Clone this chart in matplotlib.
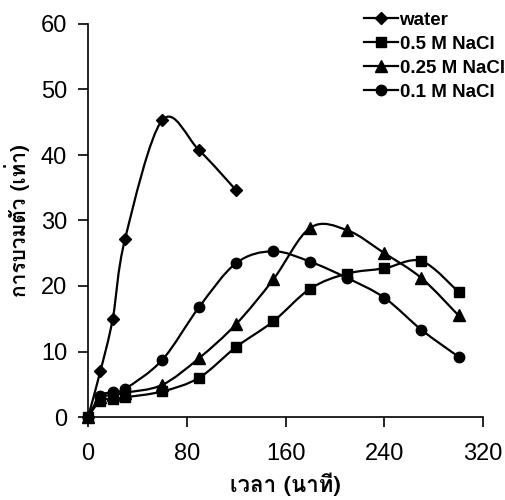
import numpy as np
import matplotlib
matplotlib.use("Agg")
import matplotlib.pyplot as plt
from matplotlib import font_manager
from matplotlib.path import Path
from matplotlib.patches import PathPatch
from matplotlib.lines import Line2D
from matplotlib.ft2font import FT2Font

# data
time_water = [0, 10, 20, 30, 60, 90, 120]
water = [0, 7, 15, 27.2, 45.3, 40.7, 34.6]

time_nacl = [0, 10, 20, 30, 60, 90, 120, 150, 180, 210, 240, 270, 300]
nacl_05 = [0, 2.5, 2.7, 3.0, 3.9, 6.0, 10.7, 14.6, 19.6, 21.9, 22.7, 23.8, 19.1]
nacl_025 = [0, 3.0, 3.3, 3.7, 4.9, 9.0, 14.2, 21.0, 28.9, 28.5, 25.0, 21.2, 15.5]
nacl_01 = [0, 3.2, 3.8, 4.3, 8.7, 16.8, 23.5, 25.3, 23.7, 21.2, 18.2, 13.3, 9.2]

labels = ["water", "0.5 M NaCl", "0.25 M NaCl", "0.1 M NaCl"]
x_ticks = [0, 80, 160, 240, 320]
y_ticks = [0, 10, 20, 30, 40, 50, 60]


def find_thai_font():
    # pick any installed font that has Thai glyphs
    for f in font_manager.fontManager.ttflist:
        try:
            if 0x0E01 in FT2Font(f.fname).get_charmap():
                return f.name
        except Exception:
            pass
    return "DejaVu Sans"


thai = find_thai_font()
plt.rcParams['font.family'] = ['Liberation Sans', 'DejaVu Sans']


def smooth_path(x, y):
    # catmull-rom style bezier through the points (like excel smoothed lines)
    pts = np.column_stack([x, y]).astype(float)
    n = len(pts)
    verts = [pts[0]]
    codes = [Path.MOVETO]
    for i in range(n - 1):
        p0 = pts[i - 1] if i > 0 else pts[i]
        p1 = pts[i]
        p2 = pts[i + 1]
        p3 = pts[i + 2] if i + 2 < n else pts[i + 1]
        c1 = p1 + (p2 - p0) / 6
        c2 = p2 - (p3 - p1) / 6
        verts += [c1, c2, p2]
        codes += [Path.CURVE4] * 3
    return Path(verts, codes)


fig = plt.figure(figsize=(5.06, 5.0), dpi=100)
ax = fig.add_axes([0.174, 0.166, 0.781, 0.786])

series = [
    (time_water, water, "D", 6),
    (time_nacl, nacl_05, "s", 7),
    (time_nacl, nacl_025, "^", 8),
    (time_nacl, nacl_01, "o", 7.5),
]
handles = []
for (xs, ys, mk, ms), lab in zip(series, labels):
    ax.add_patch(PathPatch(smooth_path(xs, ys), facecolor="none",
                           edgecolor="black", lw=1.6, zorder=2))
    ax.plot(xs, ys, linestyle="none", marker=mk, markersize=ms,
            color="black", zorder=3, clip_on=False)
    handles.append(Line2D([], [], color="black", lw=1.6, marker=mk,
                          markersize=ms, label=lab))

ax.set_xlim(0, 320)
ax.set_ylim(0, 60)
ax.set_xticks(x_ticks)
ax.set_yticks(y_ticks)
for s in ["top", "right"]:
    ax.spines[s].set_visible(False)
for s in ["left", "bottom"]:
    ax.spines[s].set_linewidth(1.2)
ax.tick_params(direction="out", length=7, width=1.2, labelsize=17)
ax.tick_params(axis="x", pad=12)
ax.tick_params(axis="y", pad=8)

ax.set_xlabel("เวลา (นาที)", family=[thai, 'DejaVu Sans'], fontsize=16,
              fontweight="bold", labelpad=5)
ax.set_ylabel("การบวมตัว (เท่า)", family=[thai, 'DejaVu Sans'], fontsize=15,
              fontweight="bold", labelpad=8)

leg = ax.legend(handles=handles, loc="upper left", bbox_to_anchor=(0.68, 1.05),
                frameon=False, fontsize=13.5, handlelength=1.8,
                handletextpad=0.08, labelspacing=0.36, borderaxespad=0)
for t in leg.get_texts():
    t.set_fontweight("bold")

fig.savefig("out.png", dpi=100, facecolor="white")
